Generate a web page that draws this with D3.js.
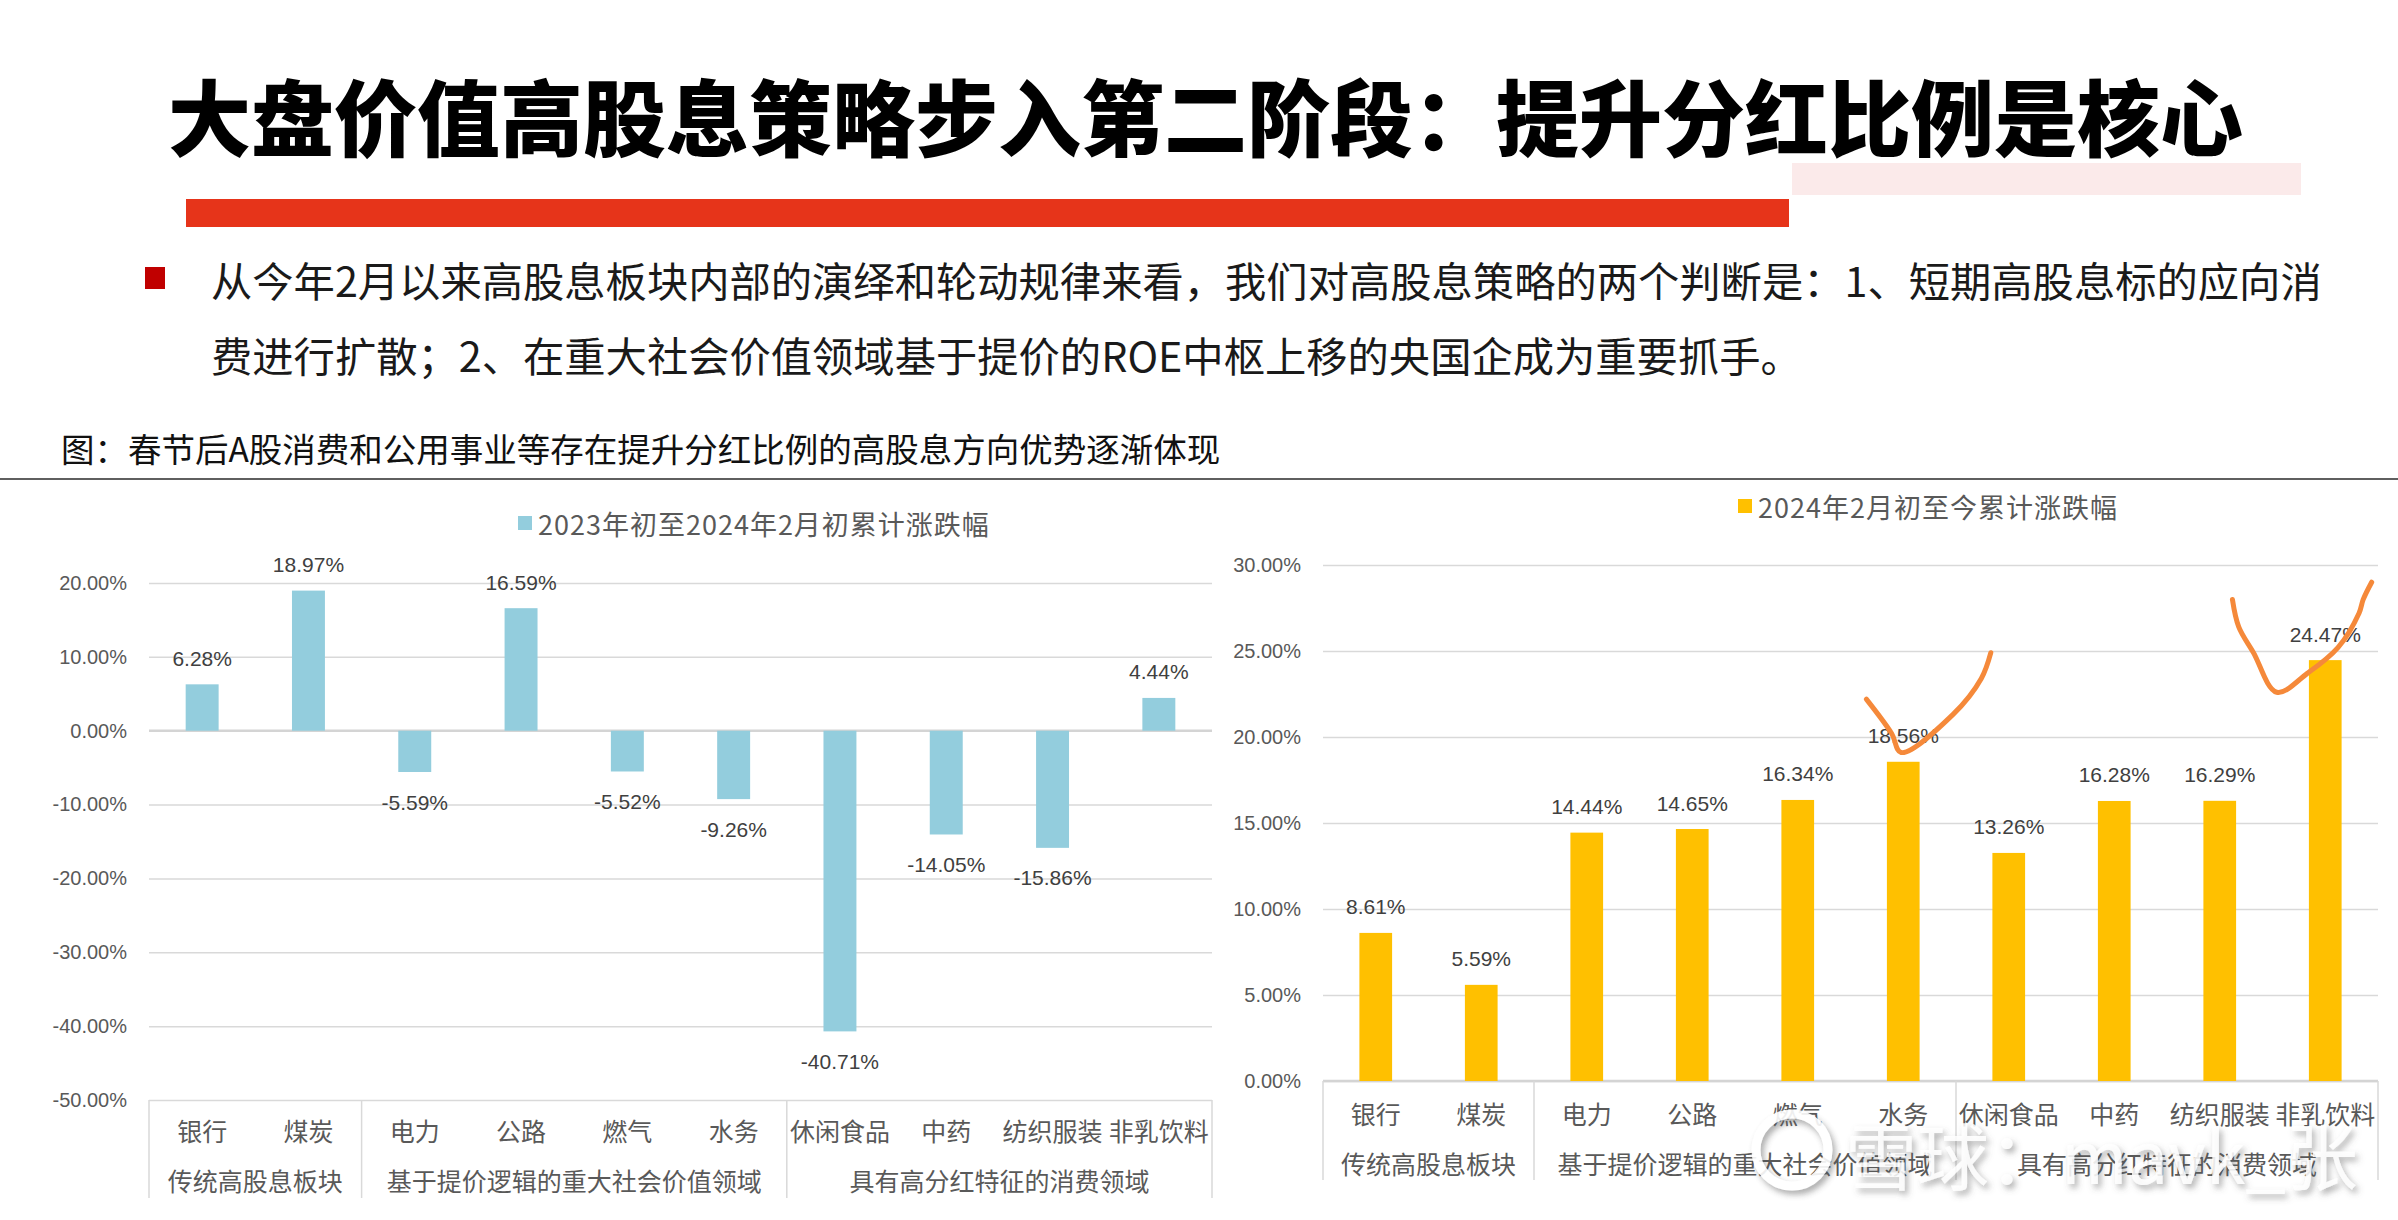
<!DOCTYPE html>
<html>
<head>
<meta charset="utf-8">
<script src="https://cdn.jsdelivr.net/npm/d3@7"></script>
<style>
  html, body { margin: 0; padding: 0; background: #ffffff; }
  svg { display: block; }
</style>
</head>
<body>
<svg id="chart" width="2398" height="1220"></svg>
<script>
// ---------- DATA ----------
const categories = ["银行", "煤炭", "电力", "公路", "燃气", "水务", "休闲食品", "中药", "纺织服装", "非乳饮料"];
const groupNames = ["传统高股息板块", "基于提价逻辑的重大社会价值领域", "具有高分红特征的消费领域"];
const groupSizes = [2, 4, 4];
const seriesLeftName = "2023年初至2024年2月初累计涨跌幅";
const seriesLeft = [6.28, 18.97, -5.59, 16.59, -5.52, -9.26, -40.71, -14.05, -15.86, 4.44];
const seriesRightName = "2024年2月初至今累计涨跌幅";
const seriesRight = [8.61, 5.59, 14.44, 14.65, 16.34, 18.56, 13.26, 16.28, 16.29, 24.47];
const ticksLeft = [-50, -40, -30, -20, -10, 0, 10, 20];
const ticksRight = [0, 5, 10, 15, 20, 25, 30];

const titleText = "大盘价值高股息策略步入第二阶段：提升分红比例是核心";
const bodyLines = [
  "从今年2月以来高股息板块内部的演绎和轮动规律来看，我们对高股息策略的两个判断是：1、短期高股息标的应向消",
  "费进行扩散；2、在重大社会价值领域基于提价的ROE中枢上移的央国企成为重要抓手。"
];
const captionText = "图：春节后A股消费和公用事业等存在提升分红比例的高股息方向优势逐渐体现";
const watermarkText = "雪球：mavk_张";

// ---------- PAGE ----------
const svg = d3.select("#chart");
const CJK = "'Noto Sans CJK SC', 'Noto Sans', sans-serif";
const NUM = "'Liberation Sans', 'Open Sans', sans-serif";

// Title
svg.append("text")
  .attr("x", 168).attr("y", 114)
  .attr("dominant-baseline", "central")
  .attr("font-family", CJK).attr("font-weight", 900).attr("font-size", 83)
  .attr("fill", "#000").text(titleText);

// decorative bars
svg.append("rect").attr("x", 1792).attr("y", 163).attr("width", 509).attr("height", 32).attr("fill", "#FBEAEA");
svg.append("rect").attr("x", 186).attr("y", 199).attr("width", 1603).attr("height", 28).attr("fill", "#E6341A");

// bullet + body text
svg.append("rect").attr("x", 145).attr("y", 267).attr("width", 20).attr("height", 22).attr("fill", "#C00000");
bodyLines.forEach((t, i) => {
  svg.append("text")
    .attr("x", 211).attr("y", 279 + i * 75)
    .attr("dominant-baseline", "central")
    .attr("font-family", CJK).attr("font-size", 41.3)
    .attr("fill", "#1a1a1a").text(t);
});

// caption
svg.append("text")
  .attr("x", 61).attr("y", 447)
  .attr("dominant-baseline", "central")
  .attr("font-family", CJK).attr("font-size", 33.5)
  .attr("fill", "#111").text(captionText);

// divider line
svg.append("line").attr("x1", 0).attr("x2", 2398).attr("y1", 479).attr("y2", 479)
  .attr("stroke", "#5f5f5f").attr("stroke-width", 2);

// ---------- CHART FUNCTION ----------
function drawChart(cfg) {
  const g = svg.append("g");
  const x = d3.scaleBand().domain(categories).range([cfg.x0, cfg.x1])
    .paddingInner(0.69).paddingOuter(0.345);
  const y = d3.scaleLinear().domain(cfg.domain).range([cfg.yBottom, cfg.yTop]);

  // gridlines + tick labels via axis
  const axis = d3.axisLeft(y).tickValues(cfg.ticks)
    .tickSize(-(cfg.x1 - cfg.x0)).tickPadding(22)
    .tickFormat(d => d.toFixed(2) + "%");
  const ga = g.append("g").attr("transform", `translate(${cfg.x0},0)`).call(axis);
  ga.select(".domain").remove();
  ga.selectAll(".tick line").attr("stroke", "#D9D9D9").attr("stroke-width", 1.5);
  ga.selectAll(".tick text")
    .attr("font-family", NUM).attr("font-size", 20).attr("fill", "#595959");

  // zero axis line (slightly stronger)
  g.append("line").attr("x1", cfg.x0).attr("x2", cfg.x1)
    .attr("y1", y(0)).attr("y2", y(0))
    .attr("stroke", "#D4D4D4").attr("stroke-width", 2.5);

  // bars
  g.selectAll("rect.bar").data(cfg.values).enter().append("rect")
    .attr("class", "bar")
    .attr("x", (d, i) => x(categories[i]))
    .attr("width", x.bandwidth())
    .attr("y", d => y(Math.max(0, d)))
    .attr("height", d => Math.abs(y(d) - y(0)))
    .attr("fill", cfg.color);

  // data labels
  g.selectAll("text.lbl").data(cfg.values).enter().append("text")
    .attr("class", "lbl")
    .attr("x", (d, i) => x(categories[i]) + x.bandwidth() / 2)
    .attr("y", d => d >= 0 ? y(d) - 26 : y(d) + 30)
    .attr("text-anchor", "middle").attr("dominant-baseline", "central")
    .attr("font-family", NUM).attr("font-size", 21).attr("fill", "#404040")
    .text(d => d.toFixed(2) + "%");

  // category axis (bottom, multi-level)
  const step = x.step();
  const base = y.range()[0];
  const bounds = [0];
  groupSizes.forEach(n => bounds.push(bounds[bounds.length - 1] + n));
  bounds.forEach(b => {
    g.append("line")
      .attr("x1", cfg.x0 + b * step).attr("x2", cfg.x0 + b * step)
      .attr("y1", base).attr("y2", cfg.sepBottom)
      .attr("stroke", "#D9D9D9").attr("stroke-width", 1.5);
  });
  categories.forEach(c => {
    g.append("text")
      .attr("x", x(c) + x.bandwidth() / 2).attr("y", cfg.catY)
      .attr("text-anchor", "middle").attr("dominant-baseline", "central")
      .attr("font-family", CJK).attr("font-size", 25).attr("fill", "#595959")
      .text(c);
  });
  groupNames.forEach((name, i) => {
    const cx = cfg.x0 + (bounds[i] + bounds[i + 1]) / 2 * step;
    g.append("text")
      .attr("x", cx).attr("y", cfg.groupY)
      .attr("text-anchor", "middle").attr("dominant-baseline", "central")
      .attr("font-family", CJK).attr("font-size", 25).attr("fill", "#595959")
      .text(name);
  });

  // legend
  g.append("rect").attr("x", cfg.legendX).attr("y", cfg.legendY - 7)
    .attr("width", 14).attr("height", 14).attr("fill", cfg.color);
  g.append("text").attr("x", cfg.legendX + 20).attr("y", cfg.legendY)
    .attr("dominant-baseline", "central")
    .attr("font-family", CJK).attr("font-size", 27).attr("letter-spacing", 1)
    .attr("fill", "#595959").text(cfg.legendText);

  return { x, y };
}

const left = drawChart({
  x0: 149, x1: 1212, yTop: 583, yBottom: 1100,
  domain: [-50, 20], ticks: ticksLeft, values: seriesLeft,
  color: "#93CDDD", legendX: 518, legendY: 523, legendText: seriesLeftName,
  catY: 1130, groupY: 1180, sepBottom: 1198
});

const right = drawChart({
  x0: 1323, x1: 2378, yTop: 565, yBottom: 1081,
  domain: [0, 30], ticks: ticksRight, values: seriesRight,
  color: "#FFC000", legendX: 1738, legendY: 506, legendText: seriesRightName,
  catY: 1113, groupY: 1163, sepBottom: 1180
});

// ---------- hand-drawn annotations (anchored on scales) ----------
// points: [category index, offset in bands, value in %]
const check1 = [[5, -0.35, 22.2], [5, -0.11, 20.2], [5, -0.02, 19.1], [5, 0.47, 21.3], [5, 0.74, 23.4], [5, 0.83, 24.9]];
const check2 = [[9, -0.88, 28.0], [9, -0.82, 26.4], [9, -0.68, 24.9], [9, -0.46, 22.6], [9, -0.17, 23.7], [9, 0.12, 25.2], [9, 0.32, 27.2], [9, 0.36, 28.0], [9, 0.44, 29.0]];
const lineGen = d3.line()
  .x(p => right.x(categories[p[0]]) + right.x.bandwidth() / 2 + p[1] * right.x.step())
  .y(p => right.y(p[2]))
  .curve(d3.curveCatmullRom);
[check1, check2].forEach(pts => {
  svg.append("path").attr("d", lineGen(pts))
    .attr("fill", "none").attr("stroke", "#F5893A").attr("stroke-width", 5)
    .attr("stroke-linecap", "round").attr("stroke-linejoin", "round");
});

// ---------- watermark ----------
const defs = svg.append("defs");
const f = defs.append("filter").attr("id", "wm").attr("x", "-10%").attr("y", "-10%").attr("width", "130%").attr("height", "140%");
f.append("feDropShadow").attr("dx", 3).attr("dy", 4).attr("stdDeviation", 3).attr("flood-color", "#555").attr("flood-opacity", 0.55);
svg.append("circle").attr("cx", 1792).attr("cy", 1150).attr("r", 36)
  .attr("fill", "none").attr("stroke", "#ffffff").attr("stroke-width", 9).attr("opacity", 0.9)
  .attr("filter", "url(#wm)");
svg.append("text").attr("x", 1845).attr("y", 1152)
  .attr("dominant-baseline", "central")
  .attr("font-family", CJK).attr("font-size", 72)
  .attr("fill", "#ffffff").attr("fill-opacity", 0.85)
  .attr("filter", "url(#wm)")
  .text(watermarkText);
</script>
</body>
</html>
